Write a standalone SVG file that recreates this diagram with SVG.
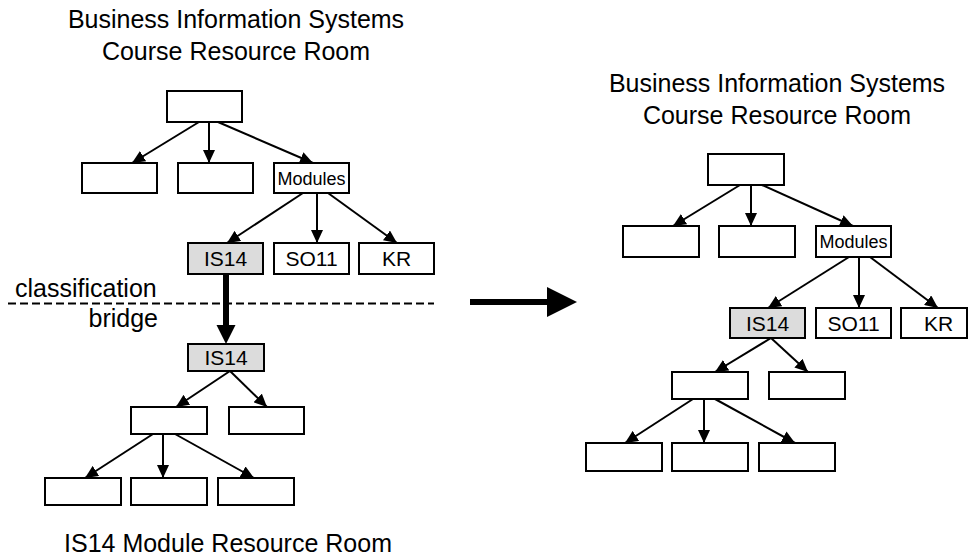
<svg xmlns="http://www.w3.org/2000/svg" width="969" height="560" viewBox="0 0 969 560">
<style>
.box{fill:#fff;stroke:#000;stroke-width:2}
.hl{fill:#dcdcdc;stroke:#000;stroke-width:2}
.t{font-family:"Liberation Sans",Arial,sans-serif;fill:#000}
.lbl{font-size:21px;text-anchor:middle}
.mod{font-size:18px;text-anchor:middle}
.big{font-size:25px}
.ttl{font-size:25px;text-anchor:middle}
.edge{stroke:#000;stroke-width:2;fill:none;marker-end:url(#ah)}
</style>
<defs>
<marker id="ah" markerUnits="userSpaceOnUse" markerWidth="13" markerHeight="12" viewBox="0 0 13 12" refX="13" refY="6" orient="auto">
<path d="M0,0 L13,6 L0,12 z" fill="#000"/>
</marker>
</defs>
<g id="titles">
<text class="t ttl" x="236" y="28">Business Information Systems</text>
<text class="t ttl" x="236" y="60">Course Resource Room</text>
<text class="t ttl" x="777" y="92">Business Information Systems</text>
<text class="t ttl" x="777" y="124">Course Resource Room</text>
<text class="t ttl" x="228" y="552">IS14 Module Resource Room</text>
<text class="t big" x="15" y="297">classification</text>
<text class="t big" x="158" y="327" text-anchor="end">bridge</text>
</g>
<line x1="8" y1="303.5" x2="434" y2="303.5" stroke="#000" stroke-width="2" stroke-dasharray="8,4"/>
<g id="connectors">
<line class="edge" x1="199" y1="122" x2="132" y2="163"/>
<line class="edge" x1="209" y1="122" x2="209" y2="163"/>
<line class="edge" x1="218" y1="122" x2="313" y2="163"/>
<line class="edge" x1="303" y1="193" x2="227" y2="243"/>
<line class="edge" x1="317" y1="193" x2="317" y2="243"/>
<line class="edge" x1="328" y1="193" x2="397" y2="243"/>
<line x1="226" y1="274" x2="226" y2="327" stroke="#000" stroke-width="6"/>
<path d="M216.5,325 L235.5,325 L226,344 z" fill="#000"/>
<line class="edge" x1="230" y1="371" x2="176" y2="407"/>
<line class="edge" x1="230" y1="371" x2="267" y2="407"/>
<line class="edge" x1="153" y1="434" x2="85" y2="478"/>
<line class="edge" x1="163" y1="434" x2="163" y2="478"/>
<line class="edge" x1="175" y1="434" x2="254" y2="478"/>
<line x1="470" y1="302" x2="549" y2="302" stroke="#000" stroke-width="6"/>
<path d="M547,287 L577,302 L547,317 z" fill="#000"/>
<line class="edge" x1="740" y1="185" x2="673" y2="226"/>
<line class="edge" x1="751" y1="185" x2="751" y2="226"/>
<line class="edge" x1="762" y1="185" x2="853" y2="226"/>
<line class="edge" x1="849" y1="257" x2="768" y2="308"/>
<line class="edge" x1="859" y1="257" x2="859" y2="308"/>
<line class="edge" x1="870" y1="257" x2="938" y2="308"/>
<line class="edge" x1="771" y1="338" x2="715" y2="372"/>
<line class="edge" x1="771" y1="338" x2="808" y2="372"/>
<line class="edge" x1="693" y1="399" x2="625" y2="443"/>
<line class="edge" x1="704" y1="399" x2="704" y2="443"/>
<line class="edge" x1="715" y1="399" x2="795" y2="443"/>
</g>
<g id="L_root"><rect class="box" x="167" y="91" width="75" height="31"/></g>
<g id="L_a"><rect class="box" x="82" y="163" width="75" height="30"/></g>
<g id="L_b"><rect class="box" x="178" y="163" width="75" height="30"/></g>
<g id="L_mod"><rect class="box" x="274" y="163" width="75" height="30"/><text class="t mod" x="311.5" y="184.5">Modules</text></g>
<g id="L_is14"><rect class="hl" x="188" y="243" width="75" height="31"/><text class="t lbl" x="225.5" y="266">IS14</text></g>
<g id="L_so11"><rect class="box" x="274" y="243" width="75" height="31"/><text class="t lbl" x="311.5" y="266">SO11</text></g>
<g id="L_kr"><rect class="box" x="359" y="243" width="75" height="31"/><text class="t lbl" x="396.5" y="266">KR</text></g>
<g id="L_is14b"><rect class="hl" x="188" y="344" width="76" height="27"/><text class="t lbl" x="226" y="365">IS14</text></g>
<g id="L_c"><rect class="box" x="131" y="407" width="76" height="27"/></g>
<g id="L_d"><rect class="box" x="229" y="407" width="75" height="27"/></g>
<g id="L_e"><rect class="box" x="45" y="478" width="76" height="27"/></g>
<g id="L_f"><rect class="box" x="131" y="478" width="76" height="27"/></g>
<g id="L_g"><rect class="box" x="218" y="478" width="76" height="27"/></g>
<g id="R_root"><rect class="box" x="708" y="154" width="76" height="31"/></g>
<g id="R_a"><rect class="box" x="623" y="226" width="76" height="31"/></g>
<g id="R_b"><rect class="box" x="719" y="226" width="76" height="31"/></g>
<g id="R_mod"><rect class="box" x="816" y="226" width="75" height="31"/><text class="t mod" x="853.5" y="248">Modules</text></g>
<g id="R_is14"><rect class="hl" x="730" y="308" width="75" height="30"/><text class="t lbl" x="767.5" y="330.5">IS14</text></g>
<g id="R_so11"><rect class="box" x="816" y="308" width="75" height="30"/><text class="t lbl" x="853.5" y="330.5">SO11</text></g>
<g id="R_kr"><rect class="box" x="901" y="308" width="66" height="30"/><text class="t lbl" x="938.5" y="330.5">KR</text></g>
<g id="R_c"><rect class="box" x="672" y="372" width="76" height="27"/></g>
<g id="R_d"><rect class="box" x="769" y="372" width="76" height="27"/></g>
<g id="R_e"><rect class="box" x="586" y="443" width="76" height="28"/></g>
<g id="R_f"><rect class="box" x="672" y="443" width="76" height="28"/></g>
<g id="R_g"><rect class="box" x="759" y="443" width="76" height="28"/></g>
</svg>
